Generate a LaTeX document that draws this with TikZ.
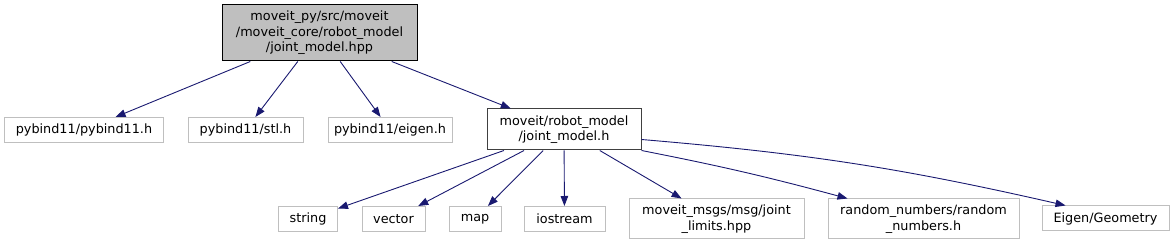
\documentclass[tikz,border=0pt]{standalone}
\usepackage{fontspec}
\setmainfont{DejaVu Sans}
\usetikzlibrary{arrows.meta, positioning}
\definecolor{cedge}{HTML}{191970}
\definecolor{cframe}{HTML}{BFBFBF}
\definecolor{croot}{HTML}{BFBFBF}
\definecolor{cdark}{HTML}{404040}
\tikzset{
  every picture/.style={font=\fontsize{12.8}{15.5}\selectfont, line width=1pt},
  file/.style={draw=cframe, fill=white, align=center, inner sep=1pt, minimum height=#1},
  file/.default=25pt,
  rootfile/.style={draw=black, fill=croot, align=center, inner sep=1pt, minimum width=195pt, minimum height=56pt},
  hdrfile/.style={draw=cdark, fill=white, align=center, inner sep=1pt, minimum width=154pt, minimum height=41pt},
  incl/.style={-{Triangle[length=10pt, width=7.5pt]}, draw=cedge, line width=0.9pt},
}
\begin{document}
\begin{tikzpicture}[x=1pt, y=-1pt]
  \useasboundingbox (0,0) rectangle (1175,245);
  % top level file
  \node[rootfile] (root) at (319.5,33) {moveit\_py/src/moveit\\/moveit\_core/robot\_model\\/joint\_model.hpp};
  % direct includes
  \node[file, minimum width=159pt] (pyb) at (84,130) {pybind11/pybind11.h};
  \node[file, minimum width=115pt] (stl) at (245.5,130) {pybind11/stl.h};
  \node[file, minimum width=124pt] (eig) at (390,130) {pybind11/eigen.h};
  \node[hdrfile] (jm) at (564,129.5) {moveit/robot\_model\\/joint\_model.h};
  % includes of joint_model.h
  \node[file, minimum width=59pt] (str) at (308,219) {string};
  \node[file, minimum width=63pt] (vec) at (393.5,219) {vector};
  \node[file, minimum width=52pt] (map) at (475,219) {map};
  \node[file, minimum width=81pt] (ios) at (564.5,219) {iostream};
  \node[file=40pt, minimum width=175pt] (lim) at (716.5,219) {moveit\_msgs/msg/joint\\\_limits.hpp};
  \node[file=40pt, minimum width=191pt] (rnd) at (923.5,219) {random\_numbers/random\\\_numbers.h};
  \node[file, minimum width=127pt] (geo) at (1105.5,218.5) {Eigen/Geometry};
  \draw[incl] (root) -- (pyb); \draw[incl] (root) -- (stl);
  \draw[incl] (root) -- (eig); \draw[incl] (root) -- (jm);
  \draw[incl] (jm) -- (str); \draw[incl] (jm) -- (vec);
  \draw[incl] (jm) -- (map); \draw[incl] (jm) -- (ios);
  \draw[incl] (jm) -- (lim);
  \draw[incl] (jm.south east) to[bend left=2] ([xshift=-76pt]rnd.north);
  \draw[incl] ([yshift=-10pt]jm.east) to[bend left=4] ([xshift=-40pt]geo.north);
\end{tikzpicture}
\end{document}
